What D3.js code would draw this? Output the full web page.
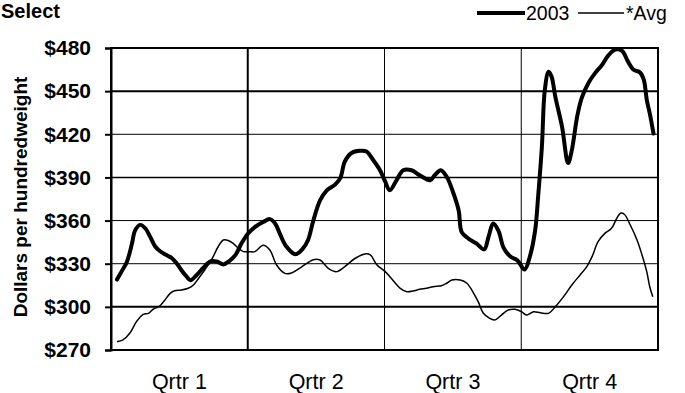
<!DOCTYPE html>
<html>
<head>
<meta charset="utf-8">
<script src="https://cdn.jsdelivr.net/npm/d3@7"></script>
<style>
  html, body { margin: 0; padding: 0; background: #fff; }
  svg { display: block; font-family: "Liberation Sans", Arial, sans-serif; }
</style>
</head>
<body>
<svg id="chart" width="685" height="393"></svg>
<script>
// ---- data (day of year, dollars per hundredweight) ----
const quarterLabels = ["Qrtr 1", "Qrtr 2", "Qrtr 3", "Qrtr 4"];
const quarterStarts = [0, 91.25, 182.5, 273.75, 365];
const yTicks = [270, 300, 330, 360, 390, 420, 450, 480];
const seriesNames = ["2003", "*Avg"];

const days2003 = [4,7,10.5,14,16,19.5,23,26,29.5,33,37,40.5,44,47,50.5,53,57,61.5,66,70.5,75,78.5,83,87,91.5,96,101.5,106,109.5,113,117,123,128,131.5,135,139.5,144,149.5,153,156,160.5,166,170.5,175,179.5,183,186,190.5,195,200.5,206,213,216,220,224,228.5,232,234,238.5,244,249,252,255,258.5,262,266.5,271,276,279.5,283,285,287.5,289.5,292,294,296.5,301,305,307.5,311,314,318.5,323,327.5,332,336.5,341,345,348.5,353,355.5,357.5,359.5,362];
const values2003 = [319,324.5,331,344,353,357,354.5,349,342,338.5,336,334,330,325.5,321,318.5,322,327,331.5,331.5,329.5,331.5,336,344,351,355.5,359,361,358,350,342,336.5,340.5,346.5,360,374,381,385,389.5,401,407,408.5,408,402,395,387,381,388,395,395,391.5,388,391.5,395,390.5,379,367,352,347.5,344,340,349,358,353,341,335,332.5,326,335,353,376.5,411,451,463.5,460,446,425,400,409,432,445,455.5,462.5,468,475,479,478,470.5,465,463,458,444,434.5,420.5];

const daysAvg = [4,8,12.5,17,21.5,25,28,32.5,36,39.5,42.5,47,51.5,55,58.5,62.5,67,71.5,75,78.5,81.5,85,88.5,92,96,101.5,106,110.5,116,120.5,127.5,135,139.5,145,150.5,156,163,169.5,173,177.5,183,188.5,193,197.5,201.5,206,210.5,215,220.5,224,227.5,233,237.5,242,245,248.5,252,256,260.5,265,269.5,274,277.5,282,286.5,292,296.5,302,307.5,313,317.5,321,325,329.5,334,337.5,340,342.5,346.5,351,354,357.5,359.5,361.5];
const valuesAvg = [275.8,277,281.6,289.7,294.8,295.5,298.3,300.6,304.8,309.4,311.2,311.7,312.9,315.2,319.9,325.6,332.6,341.8,346.5,346,344.2,340.7,338.4,338.4,338.4,342.8,339.5,329.1,323.3,323.6,328,332.8,332.6,326.8,324.5,328,333.8,336.8,336.1,329.1,324.5,318,312.9,310.5,311,312.2,312.9,314,314.7,316.4,318.7,318.7,316.4,309.4,303.6,295.5,292.5,290.9,294.3,297.8,298.3,296.6,294.3,296.6,295.9,295.5,300.1,307.1,315.2,322.2,328,334.9,345.3,351.1,354.6,361.6,365.1,364.4,356.9,346.5,337.2,324.5,314,307.1];

// ---- layout ----
const svg = d3.select("#chart");
const pLeft = 111, pRight = 658, pTop = 48, pBottom = 350;

const x = d3.scaleLinear().domain([0, 365]).range([pLeft, pRight]);
const y = d3.scaleLinear().domain([270, 480]).range([pBottom, pTop]);

// title fragment
svg.append("text")
  .attr("x", 1).attr("y", 18)
  .attr("font-size", 20).attr("font-weight", "bold")
  .text("Select");

// horizontal gridlines
const gridWidth = {270: 0, 300: 2, 330: 1, 360: 1, 390: 1.5, 420: 1, 450: 2, 480: 0};
svg.append("g").selectAll("line")
  .data(yTicks.filter(d => gridWidth[d] > 0))
  .join("line")
  .attr("x1", pLeft).attr("x2", pRight)
  .attr("y1", d => y(d)).attr("y2", d => y(d))
  .attr("stroke", "#000")
  .attr("stroke-width", d => gridWidth[d]);

// quarter dividers
const divWidth = [0, 2, 1, 1, 0];
svg.append("g").selectAll("line")
  .data(quarterStarts.slice(1, 4))
  .join("line")
  .attr("x1", d => x(d)).attr("x2", d => x(d))
  .attr("y1", pTop).attr("y2", pBottom)
  .attr("stroke", "#000")
  .attr("stroke-width", (d, i) => divWidth[i + 1]);

// frame
svg.append("rect")
  .attr("x", pLeft).attr("y", pTop)
  .attr("width", pRight - pLeft).attr("height", pBottom - pTop)
  .attr("fill", "none").attr("stroke", "#000").attr("stroke-width", 2);

// y axis
const yAxis = d3.axisLeft(y)
  .tickValues(yTicks)
  .tickFormat(d => "$" + d)
  .tickSize(6)
  .tickPadding(14);
const gy = svg.append("g").attr("transform", `translate(${pLeft},0)`).call(yAxis);
gy.select(".domain").attr("stroke-width", 2);
gy.selectAll(".tick line").attr("stroke-width", 2);
gy.selectAll(".tick text")
  .attr("font-size", 21).attr("font-weight", "bold")
  .attr("font-family", "'Liberation Sans', Arial, sans-serif")
  .attr("fill", "#000");

// quarter labels
svg.append("g").selectAll("text")
  .data(quarterLabels)
  .join("text")
  .attr("x", (d, i) => x((quarterStarts[i] + quarterStarts[i + 1]) / 2))
  .attr("y", 389)
  .attr("text-anchor", "middle")
  .attr("font-size", 21.5)
  .text(d => d);

// y axis title
svg.append("text")
  .attr("transform", "translate(27,197) rotate(-90)")
  .attr("text-anchor", "middle")
  .attr("font-size", 19).attr("font-weight", "bold")
  .text("Dollars per hundredweight");

// lines
const line = d3.line()
  .x(d => x(d[0])).y(d => y(d[1]))
  .curve(d3.curveCatmullRom.alpha(0.5));

const avgData = daysAvg.map((d, i) => [d, valuesAvg[i]]);
const data2003 = days2003.map((d, i) => [d, values2003[i]]);

svg.append("path")
  .datum(avgData)
  .attr("d", line)
  .attr("fill", "none").attr("stroke", "#000")
  .attr("stroke-width", 1.5).attr("stroke-linejoin", "round");

svg.append("path")
  .datum(data2003)
  .attr("d", line)
  .attr("fill", "none").attr("stroke", "#000")
  .attr("stroke-width", 4).attr("stroke-linejoin", "round").attr("stroke-linecap", "round");

// legend
const legend = svg.append("g");
const legendItems = [
  {name: seriesNames[0], x1: 477, x2: 525, w: 4, tx: 526},
  {name: seriesNames[1], x1: 578, x2: 624, w: 1.5, tx: 626}
];
legendItems.forEach(it => {
  legend.append("line")
    .attr("x1", it.x1).attr("x2", it.x2)
    .attr("y1", 13).attr("y2", 13)
    .attr("stroke", "#000").attr("stroke-width", it.w);
  legend.append("text")
    .attr("x", it.tx).attr("y", 19.5)
    .attr("font-size", 19.5)
    .text(it.name);
});
</script>
</body>
</html>
